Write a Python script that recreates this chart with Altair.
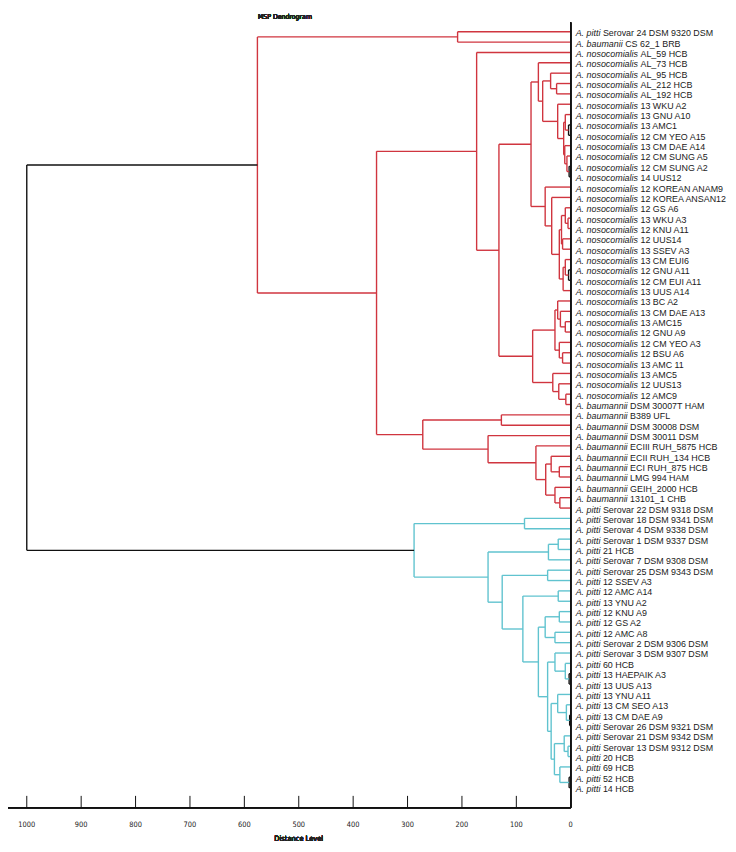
import altair as alt
import pandas as pd

# ---------------- data ----------------
species = (["A. pitti", "A. baumanii"] + ["A. nosocomialis"] * 34 +
           ["A. baumannii"] * 10 + ["A. pitti"] * 28)
strains = [
    "Serovar 24 DSM 9320 DSM", "CS 62_1 BRB", "AL_59 HCB", "AL_73 HCB", "AL_95 HCB",
    "AL_212 HCB", "AL_192 HCB", "13 WKU A2", "13 GNU A10", "13 AMC1",
    "12 CM YEO A15", "13 CM DAE A14", "12 CM SUNG A5", "12 CM SUNG A2", "14 UUS12",
    "12 KOREAN ANAM9", "12 KOREA ANSAN12", "12 GS A6", "13 WKU A3", "12 KNU A11",
    "12 UUS14", "13 SSEV A3", "13 CM EUI6", "12 GNU A11", "12 CM EUI A11",
    "13 UUS A14", "13 BC A2", "13 CM DAE A13", "13 AMC15", "12 GNU A9",
    "12 CM YEO A3", "12 BSU A6", "13 AMC 11", "13 AMC5", "12 UUS13",
    "12 AMC9", "DSM 30007T HAM", "B389 UFL", "DSM 30008 DSM", "DSM 30011 DSM",
    "ECIII RUH_5875 HCB", "ECII RUH_134 HCB", "ECI RUH_875 HCB", "LMG 994 HAM", "GEIH_2000 HCB",
    "13101_1 CHB", "Serovar 22 DSM 9318 DSM", "Serovar 18 DSM 9341 DSM", "Serovar 4 DSM 9338 DSM",
    "Serovar 1 DSM 9337 DSM", "21 HCB", "Serovar 7 DSM 9308 DSM", "Serovar 25 DSM 9343 DSM",
    "12 SSEV A3", "12 AMC A14", "13 YNU A2", "12 KNU A9", "12 GS A2", "12 AMC A8",
    "Serovar 2 DSM 9306 DSM", "Serovar 3 DSM 9307 DSM", "60 HCB", "13 HAEPAIK A3",
    "13 UUS A13", "13 YNU A11", "13 CM SEO A13", "13 CM DAE A9",
    "Serovar 26 DSM 9321 DSM", "Serovar 21 DSM 9342 DSM", "Serovar 13 DSM 9312 DSM",
    "20 HCB", "69 HCB", "52 HCB", "14 HCB",
]

# dendrogram: [distance, child, child, ...]; ints are leaf indices
red_tree = [576,
    [208, 0, 1],
    [357,
        [173, 2,
            [132,
                [73,
                    [59.5, 3,
                        [51.6,
                            [37, 4, [26, 5, 6]],
                            [24, 7,
                                [13, [10, 8, [4, 9, 10]], [11, 11, [7, 12, [3, 13, 14]]]]]]],
                    [47, 15,
                        [35, 16,
                            [21,
                                [17, [10, 17, [5, 18, 19]], [15, 20, 21]],
                                [14, [10, 22, [4, 23, 24]], 25]]]]],
                [70,
                    [29, [24, 26, [19, 27, [10, 28, 29]]], [21, 30, [15, 31, 32]]],
                    [33, 33, [22, 34, [9, 35, 36]]]]]],
        [272,
            [127.5, 37, 38],
            [152, 39,
                [64, 40,
                    [46,
                        [36, 41, [21, 42, 43]],
                        [29, 44, [20, 45, 46]]]]]]]]

cyan_tree = [288,
    [85, 47, 48],
    [152,
        [41, [23, 49, 50], 51],
        [126,
            [42.5, 52, 53],
            [88,
                [23, 54, 55],
                [59.5,
                    [47, [21, 56, 57], [29, 58, 59]],
                    [42.5,
                        [29, 60, [10, 61, [3, 62, 63]]],
                        [36,
                            [24, 64, [8, 65, [2, 66, 67]]],
                            [30, [12, 68, [5, 69, 70]], [20, 71, [3, 72, 73]]]]]]]]]]

root_distance = 1000
tick_values = [1000, 900, 800, 700, 600, 500, 400, 300, 200, 100, 0]

RED = "#d0353f"
CYAN = "#60c3cf"
BLACK = "#111111"
TIE_LIMIT = 4  # near-zero merges are drawn in black

# ---------------- build segments ----------------
segs = []


def walk(node, color):
    if isinstance(node, int):
        return 0.0, float(node)
    d = node[0]
    c = BLACK if d <= TIE_LIMIT else color
    kids = [walk(ch, color) for ch in node[1:]]
    ys = [k[1] for k in kids]
    for cx, cy in kids:
        segs.append(dict(x=cx, x2=d, y=cy, y2=cy, c=c))
    segs.append(dict(x=d, x2=d, y=min(ys), y2=max(ys), c=c))
    return d, (min(ys) + max(ys)) / 2


rd, ry = walk(red_tree, RED)
cd, cy = walk(cyan_tree, CYAN)
segs.append(dict(x=rd, x2=root_distance, y=ry, y2=ry, c=BLACK))
segs.append(dict(x=cd, x2=root_distance, y=cy, y2=cy, c=BLACK))
segs.append(dict(x=root_distance, x2=root_distance, y=ry, y2=cy, c=BLACK))
seg_df = pd.DataFrame(segs)

leaf_df = pd.DataFrame({"i": list(range(len(strains))), "sp": species, "st": strains, "zero": 0})
tick_df = pd.DataFrame({"t": tick_values, "lab": [str(t) for t in tick_values]})

# ---------------- scales ----------------
W, H = 728, 836
ZERO_PX = 569
xs = alt.Scale(domain=[-289.1, 1034.5], reverse=True, zero=False, nice=False)
ys = alt.Scale(domain=[-1.85, 78.0], reverse=True, zero=False, nice=False)
X = lambda f: alt.X(f, type="quantitative", scale=xs, axis=None)
Y = lambda f: alt.Y(f, type="quantitative", scale=ys, axis=None)

AXIS_Y = 804
NARROW = "Liberation Sans Narrow, DejaVu Sans Condensed, Liberation Sans, sans-serif"
LABEL_FONT = "Liberation Sans, Arial, sans-serif"
FS = 9

branches = alt.Chart(seg_df).mark_rule(strokeWidth=1.4).encode(
    x=X("x"), x2="x2", y=Y("y"), y2="y2",
    color=alt.Color("c:N", scale=None),
)

# species name widths (Arial metrics, px at 9px) used to place strain text
sp_width = {"A. pitti": 27.5, "A. baumanii": 50.0, "A. baumannii": 55.0, "A. nosocomialis": 65.5}
LDX = 5

sp_text = alt.Chart(leaf_df).mark_text(
    align="left", baseline="middle", dx=LDX, dy=1.5, font=LABEL_FONT,
    fontSize=FS, fontStyle="italic", color="#1a1a1a",
).encode(x=X("zero"), y=Y("i"), text="sp:N")

st_layers = []
for sp, w in sp_width.items():
    st_layers.append(
        alt.Chart(leaf_df).transform_filter(alt.datum.sp == sp).mark_text(
            align="left", baseline="middle", dx=LDX + w, dy=1.5, font=LABEL_FONT,
            fontSize=FS, color="#1a1a1a",
        ).encode(x=X("zero"), y=Y("i"), text="st:N")
    )

# axis drawn from the x scale
axis_line = alt.Chart(tick_df).mark_rule(color=BLACK, strokeWidth=1).encode(
    x=alt.value(0), x2=alt.value(ZERO_PX), y=alt.value(AXIS_Y)
)
zero_line = alt.Chart(tick_df).mark_rule(color=BLACK, strokeWidth=1).encode(
    x=alt.value(ZERO_PX), y=alt.value(10), y2=alt.value(AXIS_Y)
)
ticks = alt.Chart(tick_df).mark_rule(color=BLACK, strokeWidth=1).encode(
    x=X("t"), y=alt.value(AXIS_Y - 12), y2=alt.value(AXIS_Y)
)
tick_labels = alt.Chart(tick_df).mark_text(
    baseline="middle", font=NARROW, fontSize=7.5, color="#222"
).encode(x=X("t"), y=alt.value(AXIS_Y + 17), text="lab:N")
axis_title = alt.Chart(tick_df).mark_text(
    baseline="middle", font=NARROW, fontSize=7.5, color="#222"
).encode(x=alt.value(294), y=alt.value(AXIS_Y + 32), text=alt.value("Distance Level"))
chart_title = alt.Chart(tick_df).mark_text(
    baseline="top", font=NARROW, fontSize=7, color="#222"
).encode(x=alt.value(280), y=alt.value(0), text=alt.value("MSP Dendrogram"))

chart = alt.layer(
    branches, zero_line, axis_line, ticks, tick_labels, axis_title, chart_title,
    sp_text, *st_layers
).properties(
    width=W, height=H, padding=0,
    autosize=alt.AutoSizeParams(type="none"),
).configure_view(stroke=None)

chart.save("out.html", embed_options={"renderer": "svg", "actions": False})
